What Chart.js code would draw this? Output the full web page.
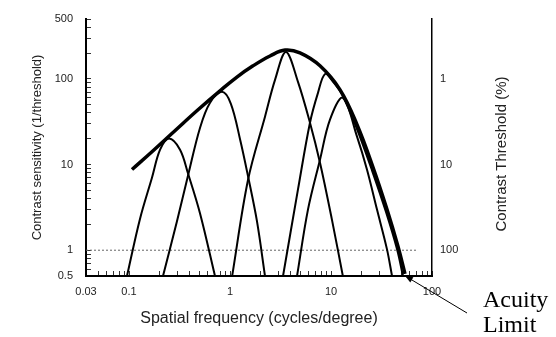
<!DOCTYPE html>
<html>
<head>
<meta charset="utf-8">
<script src="https://cdn.jsdelivr.net/npm/chart.js@4.4.1/dist/chart.umd.min.js"></script>
<style>
  html, body { margin: 0; padding: 0; background: #fff; }
  canvas { display: block; }
</style>
</head>
<body>
<canvas id="csf" width="556" height="337"></canvas>
<script>
// envelope (the CSF) : spatial frequency in c/deg, sensitivity
const envFreq = [0.107, 0.173, 0.292, 0.482, 0.796, 1.17, 1.69, 2.49, 3.51, 4.93, 7.78, 12.3, 18.1, 26.1, 35.8, 46.0, 54.0];
const envSens = [8.75, 14.5, 25.5, 43.6, 72.5, 105, 142, 185, 217, 201, 142, 74.5, 29.2, 9.23, 3.0, 1.11, 0.53];

// the narrow channels under the envelope
const ch1Freq = [0.0955, 0.128, 0.169, 0.203, 0.249, 0.320, 0.384, 0.505, 0.710];
const ch1Sens = [0.5, 2.29, 7.06, 14.9, 20.1, 14.9, 7.86, 2.69, 0.5];

const ch2Freq = [0.217, 0.298, 0.384, 0.505, 0.634, 0.834, 1.02, 1.26, 1.51, 1.85, 2.22];
const ch2Sens = [0.5, 2.17, 7.45, 26.9, 52.6, 70.6, 51.2, 19.5, 7.25, 2.17, 0.5];

const ch3Freq = [1.05, 1.51, 2.22, 2.79, 3.58, 4.71, 6.19, 7.78, 10.2, 13.1];
const ch3Sens = [0.5, 6.69, 36.2, 97.3, 206, 92.3, 30.8, 10.5, 2.29, 0.5];

const ch4Freq = [3.35, 4.71, 6.19, 7.43, 8.73, 10.5, 12.9, 17.7, 25.5, 35.1, 45.0, 51.6];
const ch4Sens = [0.5, 5.12, 30.8, 68.7, 114, 92.3, 65.2, 27.7, 8.51, 2.77, 1.03, 0.5];

const ch5Freq = [4.61, 5.92, 7.78, 9.77, 13.1, 18.1, 22.7, 28.5, 35.8, 40.2];
const ch5Sens = [0.5, 3.0, 11.4, 33.4, 60.1, 21.2, 8.75, 3.0, 1.03, 0.5];

// dotted reference line at sensitivity 1
const refFreq = [0.0375, 71];
const refSens = [1, 1];

// axis labels
const xTickValues = [0.0375, 0.1, 1, 10, 100];
const xTickText = ['0.03', '0.1', '1', '10', '100'];
const yTickValues = [0.5, 1, 10, 100, 500];
const thresholdTicks = [1, 10, 100];

const FONT = '"Liberation Sans", Arial, Helvetica, sans-serif';
const TXT = '#222';

const toPts = (xs, ys) => xs.map((v, i) => ({x: v, y: ys[i]}));
const near = (v, list) => list.findIndex(t => Math.abs(v - t) < t * 1e-6);

// chart.js puts an extra tick at 1.5 per decade, drop it
function dropHalfTicks(scale) {
  scale.ticks = scale.ticks.filter(t => {
    const m = t.value / Math.pow(10, Math.floor(Math.log10(t.value) + 1e-9));
    return Math.abs(m - 1.5) > 1e-6;
  });
}

// fixed box sizes so the plot area lands where the original has it
const fixWidth = w => s => { s.width = w; s.paddingTop = 7; s.paddingBottom = 7; };

const channel = (xs, ys) => ({
  data: toPts(xs, ys),
  borderColor: '#000',
  borderWidth: 2,
  pointRadius: 0,
  tension: 0.35
});

const annotate = {
  id: 'annotate',
  afterDraw(chart) {
    const {ctx, scales: {x, y, y2}} = chart;

    ctx.save();
    ctx.fillStyle = TXT;
    ctx.font = '15px ' + FONT;
    ctx.textAlign = 'center';
    ctx.textBaseline = 'middle';
    ctx.translate(y2.left + 70, 154);
    ctx.rotate(-Math.PI / 2);
    ctx.fillText('Contrast Threshold (%)', 0, 0);
    ctx.restore();

    ctx.save();
    ctx.fillStyle = '#000';
    ctx.font = '24px "Liberation Serif", "Times New Roman", serif';
    ctx.textAlign = 'left';
    ctx.textBaseline = 'alphabetic';
    ctx.fillText('Acuity', 483, 307);
    ctx.fillText('Limit', 483, 332);

    // arrow pointing at the end of the envelope
    const tipX = x.getPixelForValue(envFreq[envFreq.length - 1]);
    const tipY = y.getPixelForValue(envSens[envSens.length - 1]) + 2;
    const tailX = 467, tailY = 313;
    ctx.strokeStyle = '#000';
    ctx.lineWidth = 1;
    ctx.beginPath();
    ctx.moveTo(tailX, tailY);
    ctx.lineTo(tipX, tipY);
    ctx.stroke();
    const a = Math.atan2(tipY - tailY, tipX - tailX);
    ctx.beginPath();
    ctx.moveTo(tipX, tipY);
    ctx.lineTo(tipX - 8 * Math.cos(a) + 3 * Math.sin(a), tipY - 8 * Math.sin(a) - 3 * Math.cos(a));
    ctx.lineTo(tipX - 8 * Math.cos(a) - 3 * Math.sin(a), tipY - 8 * Math.sin(a) + 3 * Math.cos(a));
    ctx.closePath();
    ctx.fill();
    ctx.restore();
  }
};

new Chart('csf', {
  type: 'line',
  data: {
    datasets: [
      {
        data: toPts(envFreq, envSens),
        borderColor: '#000',
        borderWidth: 3.5,
        pointRadius: 0,
        tension: 0.4
      },
      channel(ch1Freq, ch1Sens),
      channel(ch2Freq, ch2Sens),
      channel(ch3Freq, ch3Sens),
      channel(ch4Freq, ch4Sens),
      channel(ch5Freq, ch5Sens),
      {
        data: toPts(refFreq, refSens),
        borderColor: '#666',
        borderWidth: 1,
        borderDash: [2, 2],
        pointRadius: 0
      }
    ]
  },
  options: {
    responsive: false,
    animation: false,
    devicePixelRatio: 1,
    layout: { padding: { top: 19, left: 0, right: 0, bottom: 0 } },
    plugins: { legend: { display: false }, tooltip: { enabled: false } },
    scales: {
      x: {
        type: 'logarithmic',
        position: 'bottom',
        min: 0.0375,
        max: 100,
        afterBuildTicks: dropHalfTicks,
        afterFit: s => { s.height = 61; },
        grid: { drawOnChartArea: false, drawTicks: true, tickLength: -5, color: '#333', lineWidth: 1 },
        border: { display: true, color: '#000', width: 2 },
        ticks: {
          autoSkip: false, maxRotation: 0, padding: 14, color: TXT,
          font: { family: FONT, size: 11 },
          callback: v => { const i = near(v, xTickValues); return i < 0 ? '' : xTickText[i]; }
        },
        title: {
          display: true, text: 'Spatial frequency (cycles/degree)', color: TXT,
          font: { family: FONT, size: 16 }, padding: { top: 0, bottom: 9 }
        }
      },
      y: {
        type: 'logarithmic',
        position: 'left',
        min: 0.5,
        max: 500,
        afterBuildTicks: dropHalfTicks,
        afterFit: fixWidth(86),
        grid: { drawOnChartArea: false, drawTicks: true, tickLength: -5, color: '#333', lineWidth: 1 },
        border: { display: true, color: '#000', width: 2 },
        ticks: {
          autoSkip: false, padding: 18, color: TXT,
          font: { family: FONT, size: 11 },
          callback: v => near(v, yTickValues) < 0 ? '' : String(v)
        },
        title: {
          display: true, text: 'Contrast sensitivity (1/threshold)', color: TXT,
          font: { family: FONT, size: 13 }, padding: { top: 30, bottom: 0 }
        }
      },
      y2: {
        type: 'logarithmic',
        position: 'right',
        reverse: true,
        min: 0.2,
        max: 200,
        afterFit: fixWidth(124),
        grid: { drawOnChartArea: false, drawTicks: false },
        border: { display: true, color: '#000', width: 1.5 },
        ticks: {
          autoSkip: false, padding: 8, color: TXT,
          font: { family: FONT, size: 11 },
          callback: v => near(v, thresholdTicks) < 0 ? '' : String(v)
        }
      }
    }
  },
  plugins: [annotate]
});
</script>
</body>
</html>
